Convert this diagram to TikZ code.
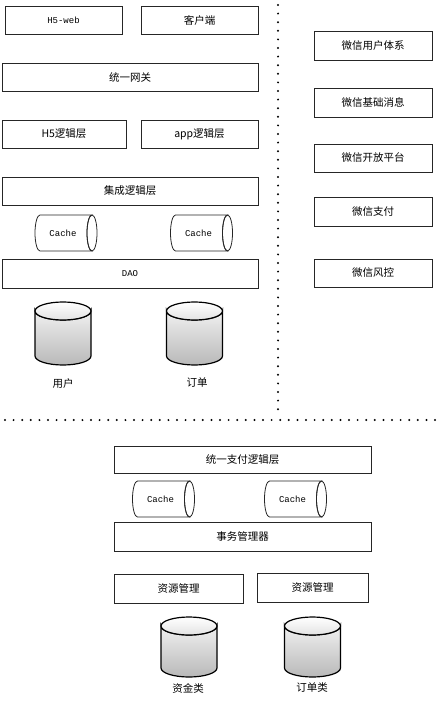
\documentclass[tikz,border=0pt]{standalone}
\usepackage{fontspec}
\setmainfont{Liberation Mono}
\newfontfamily\cjk{Noto Sans CJK SC}
\tikzset{
  box/.style={draw=black!85, line width=0.9pt, inner sep=0pt, font=\cjk\fontsize{10.5}{12}\selectfont},
  lat/.style={font=\fontsize{9}{11}\selectfont},
  lbl/.style={font=\cjk\fontsize{10.5}{12}\selectfont},
  dots/.style={line width=2.2pt, line cap=round, dash pattern=on 0pt off 8.6pt},
  db/.pic={
    \path[top color=gray!12, bottom color=gray!55, draw=black, line width=1.2pt]
      (-28,0) -- (-28,#1) arc[start angle=180, end angle=0, x radius=28, y radius=9]
      -- (28,0) arc[start angle=0, end angle=180, x radius=28, y radius=9] -- cycle;
    \path[top color=white, bottom color=gray!22, draw=black, line width=1.2pt]
      (0,0) ellipse[x radius=28, y radius=9];
  },
  cache/.pic={
    \draw[black!85, line width=0.8pt, fill=white]
      (-26,-18) -- (26,-18) arc[start angle=270, end angle=90, x radius=5, y radius=18]
      -- (-26,18) arc[start angle=90, end angle=270, x radius=5, y radius=18] -- cycle;
    \draw[black!85, line width=0.8pt] (26,0) ellipse[x radius=5, y radius=18];
  }
}
\begin{document}
\begin{tikzpicture}[x=1pt, y=-1pt]
\useasboundingbox (0,0) rectangle (446,703);
% upper-left
\node[box, lat, minimum width=117, minimum height=28] (h5web) at (63.5,20) {H5-web};
\node[box, minimum width=117, minimum height=28] (client) at (199.5,20) {客户端};
\node[box, minimum width=256, minimum height=28] (gateway) at (130,77) {统一网关};
\node[box, minimum width=124, minimum height=28] (h5logic) at (64,134) {H5逻辑层};
\node[box, minimum width=117, minimum height=28] (applogic) at (199.5,134) {app逻辑层};
\node[box, minimum width=256, minimum height=28] (integ) at (130,191) {集成逻辑层};
\pic at (66,233) {cache};
\node[lat] (cacheA) at (63,233) {Cache};
\pic at (201.5,233) {cache};
\node[lat] (cacheB) at (198.5,233) {Cache};
\node[box, lat, minimum width=256, minimum height=29] (dao) at (130,273.5) {DAO};
\pic at (63,311) {db={45}};
\pic at (194.5,311) {db={45}};
\node[lbl] (user) at (63,384) {用户};
\node[lbl] (order) at (197,383) {订单};
% right column
\node[box, minimum width=118, minimum height=29] (wxuser) at (373,45.5) {微信用户体系};
\node[box, minimum width=118, minimum height=29] (wxmsg) at (373,102.5) {微信基础消息};
\node[box, minimum width=118, minimum height=28] (wxopen) at (373,158) {微信开放平台};
\node[box, minimum width=118, minimum height=29] (wxpay) at (373,211.5) {微信支付};
\node[box, minimum width=118, minimum height=28] (wxrisk) at (373,273) {微信风控};
% separators
\coordinate (vtop) at (278,5);
\coordinate (vbot) at (278,411);
\coordinate (hl) at (5,420);
\coordinate (hr) at (440,420);
\draw[dots] (vtop) -- (vbot);
\draw[dots] (hl) -- (hr);
% lower part
\node[box, minimum width=257, minimum height=27] (paylogic) at (242.5,459.5) {统一支付逻辑层};
\pic at (163.5,499) {cache};
\node[lat] (cacheC) at (160.5,499) {Cache};
\pic at (295.5,499) {cache};
\node[lat] (cacheD) at (292.5,499) {Cache};
\node[box, minimum width=257, minimum height=29] (txmgr) at (242.5,536.5) {事务管理器};
\node[box, minimum width=129, minimum height=29] (res1) at (178.5,588.5) {资源管理};
\node[box, minimum width=111, minimum height=29] (res2) at (312.5,587.5) {资源管理};
\pic at (189,626) {db={42}};
\pic at (312.5,626) {db={42}};
\node[lbl] (fund) at (188,688) {资金类};
\node[lbl] (orderc) at (312,688) {订单类};
\end{tikzpicture}
\end{document}
